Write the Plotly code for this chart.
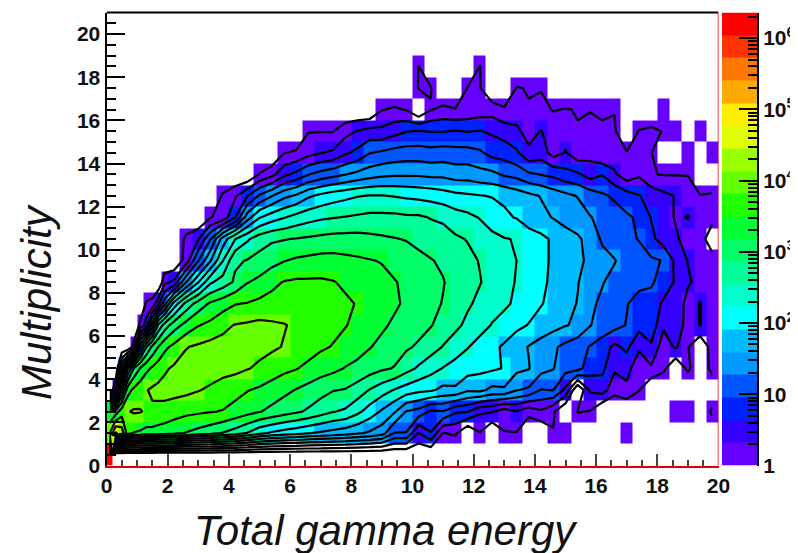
import plotly.graph_objects as go

E = None
# column edges in "Total gamma energy"
x_edges = [0,.2,.4,.6,.8,1,1.2,1.4,1.6,1.8,2,2.4,2.8,3.2,3.6,4,4.4,4.8,5.2,5.6,6,6.4,6.8,7.2,7.6,8,8.4,8.8,9.2,9.6,10,10.4,10.8,11.2,11.6,12,12.4,12.8,13.2,13.6,14,14.4,14.8,15.2,15.6,16,16.4,16.8,17.2,17.6,18,18.4,18.8,19.2,19.6,20]
y_edges = list(range(22))

# colour-band level of each cell (band 0 = lowest purple, 20 bands over 6.36 decades)
row_00 = [19.5]+[E]*54
row_01 = [12,14.2,13.6,11.5,11,10.9,10.7,10.7,10.6,10.5, 10.3,10,9.7,9.4,9,8.6,8,7.3,6.9,6.6,6.4,6.1,5.9,5.7,5.5,5.2,4.9,4.5,3,3,1,2,0,.2,E,0,E,0,0,E,E,0,0,E,E,E,E,0,E,E,E,E,E,E,E]
row_02 = [10,10.5,11.6,12,12.15,12.1,11.95,11.9,11.8,11.7, 11.5,11.3,11.2,11.1,11,10.7,10.4,10.1,9.8,9.5,9.2,8.9,8.5,8.1,7.9,7.3,6.6,5.9,5.2,4,3.7,2.9,3,2.2,2.1,1.2,1.1,.5,1,.4,.9,.2,E,.1,0,E,E,E,E,E,E,0,0,E,.3]
row_03 = [E,1,8,10.7,11.3,11.7,12,12.2,12.3,12.4, 12.4,12.3,12.1,11.9,11.6,11.4,11.1,10.9,10.6,10.3,10,9.7,9.4,9.1,9,8.6,8,7.5,7,6.6,6.3,6.2,5.8,5.9,5.2,5.3,4.8,4.9,4.1,3.9,3,3.1,1.8,E,1.2,1.5,.4,.8,.1,E,E,E,E,E,E]
row_04 = [E,E,3,7,9.2,10.1,10.8,11.2,11.6,11.9, 12.2,12.4,12.5,12.5,12.4,12.3,12.1,11.9,11.6,11.3,11.1,10.8,10.5,10.3,10,9.8,9.5,9.2,9,8.4,7.9,7.4,7,6.7,6.5,6.3,6.2,6,5.3,5.1,4.4,4.1,3.4,3.4,2.5,2.3,1.2,1.4,.4,.9,.3,E,.3,E,.5]
row_05 = [E,E,E,E,.5,5.8,8,9.3,10.1,10.8, 11.3,12,12.2,12.4,12.4,12.4,12.3,12.3,12.2,12,11.8,11.5,11.2,11,10.7,10.4,10.1,9.8,9.5,9.2,8.9,8.5,8,7.5,7.1,6.7,6.3,5.9,5.4,5,4.6,4.2,3.8,3.4,3,2.6,1.8,2.3,1.2,1.9,.5,1.2,.1,E,.6]
row_06 = [E,E,E,E,E,.3,1.5,4.5,7.3,8.5, 9.6,10.4,11,11.3,11.8,12.1,12.2,12.3,12.2,12.1,11.9,11.7,11.5,11.3,11.1,10.8,10.5,10.2,9.9,9.6,9.4,9.1,8.7,8.3,7.8,7.4,7,6.7,6.3,6,5.7,5.4,5.1,4.9,4.1,3.6,3.4,3,2.4,2.7,1.2,1.9,.5,1.1,.3]
row_07 = [E,E,E,E,E,E,.2,.4,1.9,3.7, 6.4,8.4,9.5,10.2,10.6,11,11.1,11.3,11.4,11.5,11.6,11.6,11.5,11.4,11.2,11,10.7,10.5,10.2,9.9,9.6,9.3,9,8.6,8.2,7.8,7.4,7.2,6.9,6.5,6.1,5.8,5.4,5,4.2,3.9,3.4,3.1,2.7,2.9,1.8,1.9,.6,1.1,.5]
row_08 = [E,E,E,E,E,E,E,E,E,.8, 1.3,4,6,7.9,8.5,9.2,10,10.3,10.8,11.1,11.2,11.2,11.2,11.1,10.9,10.7,10.5,10.3,10.1,9.9,9.6,9.3,9.1,8.7,8.4,8.1,7.7,7.3,7,6.6,6.2,5.9,5.6,5.1,4.5,4.1,3.8,3.5,3.3,3.1,2.9,1.9,1.2,.7,.7]
row_09 = [E,E,E,E,E,E,E,E,E,E, E,.5,3,5,7,8.9,9.1,9.4,9.7,10,10.2,10.3,10.4,10.4,10.3,10.2,10.1,10,9.8,9.5,9.3,9.1,8.9,8.6,8.3,8,7.7,7.3,7.05,6.6,6.3,5.9,5.6,5.2,4.9,4.4,4.1,3.7,3.5,3.2,3,1.8,1,.8,.7]
row_10 = [E,E,E,E,E,E,E,E,E,E, E,.3,1,3,5.5,7,7.9,8.6,8.9,9,9.1,9.2,9.3,9.4,9.4,9.4,9.3,9.2,9.1,9,8.8,8.6,8.4,8.2,8,7.6,7.3,7.1,7,6.6,6.3,5.9,5.6,5.2,4.7,3.9,3.6,3.3,3,2.3,1.6,1.3,.4,.8,E]
row_11 = [E,E,E,E,E,E,E,E,E,E, E,E,E,0,.4,2,4.6,6,6.6,7,7.4,7.7,7.9,8,8.1,8.2,8.3,8.3,8.3,8.2,8.2,8,7.9,7.5,7.3,7,6.6,6.2,6,5.5,5.3,5,4.6,4.5,4.1,3.8,3.5,3.2,2.9,2,1.8,.9,1.1,.3,.5]
row_12 = [E,E,E,E,E,E,E,E,E,E, E,E,E,E,.2,.9,2,3.2,4,4.8,5.2,5.9,6.3,6.6,6.8,7,7.1,7.1,7,6.9,6.8,6.7,6.5,6.3,6.2,6.1,6,5.9,5.6,5.3,5,4.6,4.3,4,3.6,3.2,2.9,2.5,2.1,1.7,1.3,1,.7,.1,.2]
row_13 = [E,E,E,E,E,E,E,E,E,E, E,E,E,E,E,E,E,.1,.7,1.8,2.3,3,3.4,3.7,4,4.3,4.6,4.8,4.9,4.9,4.9,4.8,4.8,4.6,4.6,4.4,4.3,3.9,3.7,3.2,3,2.8,2.4,2.2,1.6,2,1.2,.4,.9,.1,0,0,0,E,E]
row_14 = [E,E,E,E,E,E,E,E,E,E, E,E,E,E,E,E,E,E,E,0,.2,.7,1,1.2,1.9,2.3,3,3.2,3.4,3.5,3.5,3.4,3.5,3.4,3.4,3.2,2.7,2.6,2.2,1.3,1.6,.6,1.1,.4,.7,.1,.5,.1,.5,.1,E,E,0,E,.1]
row_15 = [E,E,E,E,E,E,E,E,E,E, E,E,E,E,E,E,E,E,E,E,E,0,0,0,.7,1.1,1.4,1.3,1.7,2,2.1,2,2,2.1,2,2.1,1.9,1.6,1.3,.6,1.1,.5,.8,.1,.4,.1,.2,E,.1,.3,0,0,E,0,E]
row_16 = [E,E,E,E,E,E,E,E,E,E, E,E,E,E,E,E,E,E,E,E,E,E,E,E,E,E,E,0,.2,0,E,0,.3,.1,.3,.5,.6,.2,.4,.1,.3,0,.1,0,0,0,0,E,E,E,0,E,E,E,E]
row_17 = [E,E,E,E,E,E,E,E,E,E, E,E,E,E,E,E,E,E,E,E,E,E,E,E,E,E,E,E,E,E,.1,.1,E,E,.1,.1,E,E,.1,0,0,E,E,E,E,E,E,E,E,E,E,E,E,E,E]
row_18 = [E,E,E,E,E,E,E,E,E,E, E,E,E,E,E,E,E,E,E,E,E,E,E,E,E,E,E,E,E,E,.08,E,E,E,E,.08,E,E,E,E,E,E,E,E,E,E,E,E,E,E,E,E,E,E,E]
row_19 = [E]*55
row_20 = [E]*55
rows = [row_00,row_01,row_02,row_03,row_04,row_05,row_06,row_07,row_08,row_09,row_10,
        row_11,row_12,row_13,row_14,row_15,row_16,row_17,row_18,row_19,row_20]
for i, r in enumerate(rows):
    assert len(r) == 55, (i, len(r))

band_colors = ["#6600ff","#3300ff","#0022ff","#0055ff","#0099ff","#00bbff","#00ffff","#00ffcc",
               "#00ff99","#00ff66","#00ff33","#22ff00","#66ff00","#99ff00","#e0ff00","#ffee00",
               "#ffaa00","#ff7700","#ff3300","#ff0000"]
n_bands = len(band_colors)
decades = 6.36
cbar_ticks = [1,10,100,1000,10000,100000,1000000]
cbar_labels = ["1","10","10<sup>2</sup>","10<sup>3</sup>","10<sup>4</sup>","10<sup>5</sup>","10<sup>6</sup>"]
cbar_minor = [m*d for d in cbar_ticks for m in (2,3,4,5,6,7,8,9)]

x_title = "Total gamma energy"
y_title = "Multiplicity"

scale = []
for i, c in enumerate(band_colors):
    scale += [[i/n_bands, c], [(i+1)/n_bands, c]]

x_centers = [(a+b)/2 for a, b in zip(x_edges[:-1], x_edges[1:])]
y_centers = [(a+b)/2 for a, b in zip(y_edges[:-1], y_edges[1:])]
z_contour = [[-1 if v is None else v for v in r] for r in rows]

# the page has an 8 px body margin, so the figure is 790x545 and everything is placed 8 px up/left
OFF = 8
W, H = 790, 545
L, R, T, B = 106.5-OFF, 718.5-OFF, 12.5-OFF, 465.5-OFF
FONT = "Liberation Sans"

fig = go.Figure()
fig.add_trace(go.Heatmap(x=x_edges, y=y_edges, z=rows, zmin=0, zmax=n_bands, colorscale=scale,
                         showscale=False, hoverinfo="skip", xgap=0, ygap=0))
fig.add_trace(go.Contour(x=x_centers, y=y_centers, z=z_contour, showscale=False, autocontour=False,
                         contours=dict(start=0.05, end=19.05, size=1, coloring="none"),
                         line=dict(color="black", width=2.2, smoothing=0), hoverinfo="skip"))
edges = [10**(decades*i/n_bands) for i in range(n_bands+1)]
fig.add_trace(go.Heatmap(x=[0,1], y=edges, z=[[i+.5] for i in range(n_bands)], zmin=0, zmax=n_bands,
                         colorscale=scale, showscale=False, hoverinfo="skip", xaxis="x2", yaxis="y2"))

tf = dict(family=FONT, size=21, color="#111111", weight=700)
fig.update_layout(
    width=W, height=H, margin=dict(l=0, r=0, t=0, b=0, autoexpand=False), paper_bgcolor="white", plot_bgcolor="white",
    showlegend=False,
    xaxis=dict(domain=[L/W, R/W], range=[0,20], dtick=2, tick0=0, ticks="inside", ticklen=12, tickwidth=1.5,
               tickcolor="#444", showgrid=False, zeroline=False, showline=True, linecolor="#e00000", linewidth=2,
               tickfont=tf, anchor="y", automargin=False,
               minor=dict(dtick=.5, tick0=0, ticks="inside", ticklen=6, tickwidth=1.5, tickcolor="#444", showgrid=False)),
    yaxis=dict(domain=[(H-B)/H, (H-T)/H], range=[0,21], dtick=2, tick0=0, ticks="inside", ticklen=18, tickwidth=1.5,
               tickcolor="black", showgrid=False, zeroline=False, showline=True, linecolor="black", linewidth=2,
               tickfont=tf, anchor="x", automargin=False,
               minor=dict(dtick=.5, tick0=0, ticks="inside", ticklen=9, tickwidth=1.5, tickcolor="black", showgrid=False)),
    xaxis2=dict(domain=[(722-OFF)/W, (757-OFF)/W], range=[0,1], visible=False, anchor="y2"),
    yaxis2=dict(domain=[(H-B)/H, (H-T)/H], type="log", range=[0,decades], side="right", anchor="x2", automargin=False,
                tickmode="array", tickvals=cbar_ticks, ticktext=cbar_labels, ticks="inside", ticklen=18, tickwidth=1.5,
                tickcolor="black", showgrid=False, zeroline=False, showline=True, linecolor="black", linewidth=2,
                tickfont=dict(family=FONT, size=21, color="#111111", weight=700),
                minor=dict(tickmode="array", tickvals=cbar_minor, ticks="inside", ticklen=9, tickwidth=1.5,
                           tickcolor="black", showgrid=False)),
    shapes=[dict(type="line", xref="x", yref="paper", x0=0, x1=20, y0=(H-T)/H, y1=(H-T)/H, line=dict(color="black", width=2)),
            dict(type="line", xref="x", yref="y", x0=20, x1=20, y0=0, y1=21, line=dict(color="#e00000", width=1.5))],
    annotations=[
        dict(text=x_title, xref="paper", yref="paper", x=(386-OFF)/W, y=(H-(530-OFF))/H, showarrow=False, xanchor="center", yanchor="middle",
             font=dict(family=FONT, size=42, color="#111111", style="italic")),
        dict(text=y_title, xref="paper", yref="paper", x=(37-OFF)/W, y=(H-(302-OFF))/H, showarrow=False, textangle=-90, xanchor="center", yanchor="middle",
             font=dict(family=FONT, size=42, color="#111111", style="italic")),
    ],
)
fig.write_html("out.html")
